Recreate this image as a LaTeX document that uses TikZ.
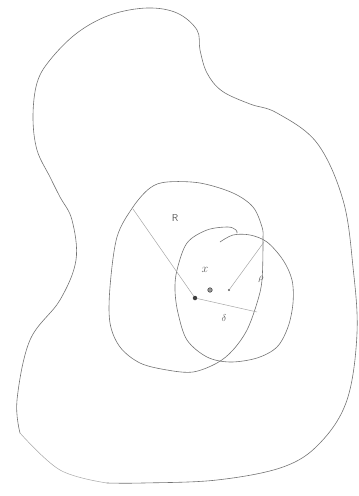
\documentclass[tikz,border=0pt]{standalone}
\usepackage{tikz}
\usetikzlibrary{calc,positioning}
\tikzset{
    pencil/.style={draw=black!55, line width=0.6pt, line join=round, line cap=round},
    faint/.style={draw=black!35, line width=0.5pt, line cap=round},
    dot/.style={circle, fill=black!75, inner sep=0pt, minimum size=4.5pt},
    odot/.style={circle, draw=black!70, fill=black!40, line width=0.6pt, inner sep=0pt, minimum size=4.5pt},
    sdot/.style={circle, fill=black!65, inner sep=0pt, minimum size=2.2pt},
    lbl/.style={text=black!65, inner sep=1pt, font=\sffamily}
}
\begin{document}
\begin{tikzpicture}[x=1pt, y=-1pt]
    \useasboundingbox (0,0) rectangle (359,496);
    % outer region
    \draw[pencil] plot[smooth, tension=0.6] coordinates {
        (20,433) (17,400) (30,340) (60,300) (76,260) (72,220) (60,197) (50,177) (37,150)
        (33,117) (37,83) (50,60) (77,33) (110,15) (147,8) (177,13) (197,30) (200,50)
        (207,73) (222,91) (250,104) (277,113) (317,143)
        (343,200) (353,267) (357,333) (347,400) (320,443) (283,467) (217,480) (143,483) (107,483)};
    \draw[faint] plot[smooth, tension=0.6] coordinates {(107,483) (60,470) (20,433)};

    % big circle
    \draw[pencil] plot[smooth cycle, tension=0.55] coordinates {
        (167,182) (200,183) (233,193) (253,207) (262,227) (263,240) (262,280) (257,303)
        (247,330) (233,350) (217,363) (193,372) (167,370) (140,363) (120,347) (110,323)
        (110,287) (117,237) (133,207) (150,188)};

    % small circle
    \draw[pencil] plot[smooth, tension=0.55] coordinates {
        (220,242) (233,235) (250,235) (267,242) (283,260) (292,280) (293,303) (288,327)
        (277,347) (257,358) (230,362) (207,357) (187,340) (178,313) (175,290) (177,270)
        (187,243) (207,230) (228,227) (236,230) (237,233)};

    % Nodes
    \node[dot] (c) at (195,298) {};
    \node[odot] (x) at (210,290) {};
    \node[sdot] (y) at (229,290) {};
    \coordinate (r) at (133,209);
    \coordinate (q) at (264,242);
    \coordinate (d) at (257,312);

    % edges
    \draw[faint] (c) -- (r);
    \draw[faint] (y) -- (q);
    \draw[faint] (c) -- (d);

    % labels
    \node[lbl] (lR) at (175,218) {R};
    \node[lbl, font=\large] (lx) at (205,270) {$x$};
    \node[lbl] (lrho) at (261,279) {$\rho$};
    \node[lbl] (ldelta) at (224,318) {$\delta$};
\end{tikzpicture}
\end{document}
